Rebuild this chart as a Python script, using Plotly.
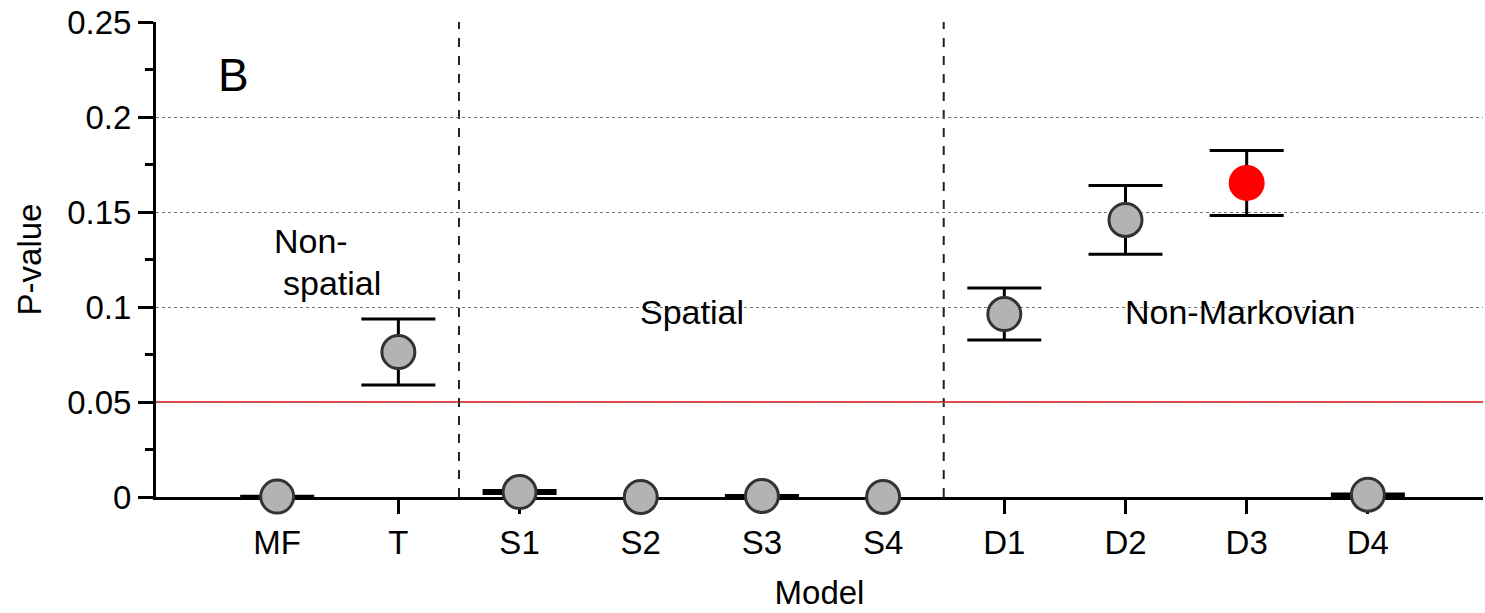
import plotly.graph_objects as go

# Model fits: mean P-value and half-width of the error bar
models = ["MF", "T", "S1", "S2", "S3", "S4", "D1", "D2", "D3", "D4"]
p_values = [0.0002, 0.0763, 0.0026, 0.0, 0.0005, 0.0, 0.0963, 0.1458, 0.1653, 0.0012]
p_errors = [0.0002, 0.0174, 0.0008, 0.0, 0.0003, 0.0, 0.0137, 0.0181, 0.0171, 0.0004]
best_model = "D3"

y_ticks = [0, 0.05, 0.1, 0.15, 0.2, 0.25]
y_tick_text = ["0", "0.05", "0.1", "0.15", "0.2", "0.25"]
threshold = 0.05
group_edges = [2.5, 6.5]

FONT = "Liberation Sans, Arial, Helvetica, sans-serif"
xpos = list(range(1, len(models) + 1))

GRAY_MARKER = dict(size=33, color="#b3b3b3", line=dict(color="#333333", width=3))
BEST_MARKER = dict(size=36, color="#ff0000", line=dict(width=0))

fig = go.Figure()


def add_points(idx, marker):
    # points with a zero-width interval are drawn without error bars
    with_err = [i for i in idx if p_errors[i] > 0]
    no_err = [i for i in idx if p_errors[i] <= 0]
    if with_err:
        fig.add_trace(go.Scatter(
            x=[xpos[i] for i in with_err],
            y=[p_values[i] for i in with_err],
            mode="markers", marker=marker,
            error_y=dict(type="data", array=[p_errors[i] for i in with_err],
                         color="black", thickness=3, width=37),
            cliponaxis=False, showlegend=False,
        ))
    if no_err:
        fig.add_trace(go.Scatter(
            x=[xpos[i] for i in no_err],
            y=[p_values[i] for i in no_err],
            mode="markers", marker=marker,
            cliponaxis=False, showlegend=False,
        ))


add_points([i for i, m in enumerate(models) if m != best_model], GRAY_MARKER)
add_points([i for i, m in enumerate(models) if m == best_model], BEST_MARKER)

# significance threshold
fig.add_shape(type="line", xref="paper", x0=0, x1=1, yref="y", y0=threshold, y1=threshold,
              line=dict(color="#ff0000", width=1.5), layer="below")
# group separators
for xe in group_edges:
    fig.add_shape(type="line", xref="x", x0=xe, x1=xe, yref="y", y0=0, y1=0.25,
                  line=dict(color="#222222", width=2, dash="dash"), layer="below")

ann_font = dict(family=FONT, size=34, color="black")
fig.add_annotation(x=1.28, y=0.135, text="Non-", showarrow=False, font=ann_font)
fig.add_annotation(x=1.45, y=0.1126, text="spatial", showarrow=False, font=ann_font)
fig.add_annotation(x=4.42, y=0.0974, text="Spatial", showarrow=False, font=ann_font)
fig.add_annotation(x=8.95, y=0.0974, text="Non-Markovian", showarrow=False, font=ann_font)
fig.add_annotation(x=0.64, y=0.222, text="B", showarrow=False,
                   font=dict(family=FONT, size=46, color="black"))

fig.update_layout(
    width=1485, height=613,
    margin=dict(l=156, r=2, t=22, b=116),
    paper_bgcolor="white", plot_bgcolor="white",
    font=dict(family=FONT, size=33, color="black"),
    xaxis=dict(
        range=[0, 10.95], tickmode="array", tickvals=xpos, ticktext=models,
        showline=True, linecolor="black", linewidth=3,
        ticks="outside", ticklen=14, tickwidth=3, tickcolor="black",
        showgrid=False, zeroline=False, layer="below traces",
        title=dict(text="Model", standoff=22, font=dict(size=33)),
        tickfont=dict(size=33),
    ),
    yaxis=dict(
        range=[0, 0.25], tickmode="array", tickvals=y_ticks, ticktext=y_tick_text,
        showline=True, linecolor="black", linewidth=3,
        ticks="outside", ticklen=15, tickwidth=3, tickcolor="black",
        minor=dict(dtick=0.025, ticks="outside", ticklen=8, tickwidth=3,
                   tickcolor="black", showgrid=False),
        showgrid=True, gridcolor="#777777", gridwidth=1, griddash="dot",
        zeroline=False, layer="below traces",
        title=dict(text="P-value", standoff=16, font=dict(size=33)),
        tickfont=dict(size=33),
    ),
)

fig.write_html("out.html")
